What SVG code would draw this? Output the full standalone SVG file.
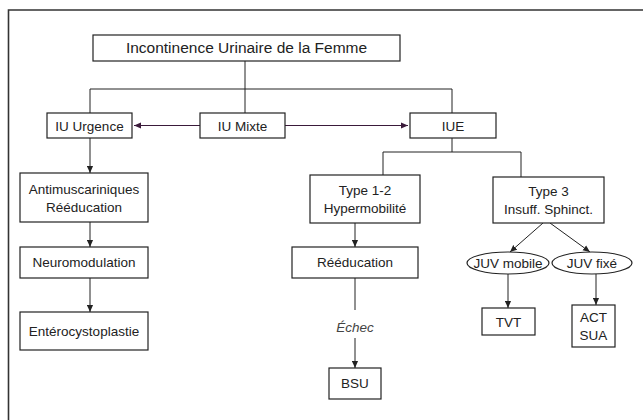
<svg xmlns="http://www.w3.org/2000/svg" width="643" height="420" viewBox="0 0 643 420">
<defs>
<style>
.box{fill:#fff;stroke:#222;stroke-width:1.2}
.t{font-family:"Liberation Sans",Arial,sans-serif;font-size:13.5px;fill:#222;text-anchor:middle}
.ln{fill:none;stroke:#222;stroke-width:1}
.pl{fill:none;stroke:#3a1a3a;stroke-width:1}
</style>
<marker id="ah" viewBox="0 0 8 8" refX="8" refY="4" markerWidth="7" markerHeight="7" markerUnits="userSpaceOnUse" orient="auto">
<path d="M0,0.5 L8,4 L0,7.5 Z" fill="#222"/>
</marker>
<marker id="ahp" viewBox="0 0 8 8" refX="8" refY="4" markerWidth="7" markerHeight="7" markerUnits="userSpaceOnUse" orient="auto">
<path d="M0,0.5 L8,4 L0,7.5 Z" fill="#3a1a3a"/>
</marker>
</defs>
<rect width="643" height="420" fill="#fff"/>
<path d="M8.5,420 V10 H643" fill="none" stroke="#333" stroke-width="1.6"/>

<g id="connectors">
<path class="ln" d="M245,61 V113"/>
<path class="ln" d="M90,113 V89 H452 V113"/>
<path class="pl" d="M200,125.5 H134" marker-end="url(#ahp)"/>
<path class="pl" d="M285,125.5 H408" marker-end="url(#ahp)"/>
<path class="ln" d="M452,138 V152"/>
<path class="ln" d="M383,175 V152 H521 V177"/>
<path class="ln" d="M90,138 V173" marker-end="url(#ah)"/>
<path class="ln" d="M90,222 V247" marker-end="url(#ah)"/>
<path class="ln" d="M90,278 V312" marker-end="url(#ah)"/>
<path class="ln" d="M355,223 V247" marker-end="url(#ah)"/>
<path class="ln" d="M355,278 V310"/>
<path class="ln" d="M355,338 V368" marker-end="url(#ah)"/>
<path class="ln" d="M543,223 L510,252" marker-end="url(#ah)"/>
<path class="ln" d="M550,223 L590,252" marker-end="url(#ah)"/>
<path class="ln" d="M508,274 V308" marker-end="url(#ah)"/>
<path class="ln" d="M596,274 V305" marker-end="url(#ah)"/>
</g>

<g id="title"><rect class="box" x="93" y="35" width="307" height="26"/><text class="t" x="246.5" y="53" style="font-size:15.5px">Incontinence Urinaire de la Femme</text></g>
<g id="iu-urgence"><rect class="box" x="47" y="113" width="85" height="25"/><text class="t" x="89.5" y="130.5">IU Urgence</text></g>
<g id="iu-mixte"><rect class="box" x="200" y="113" width="85" height="25"/><text class="t" x="242.5" y="130.5">IU Mixte</text></g>
<g id="iue"><rect class="box" x="410" y="113" width="86" height="25"/><text class="t" x="453" y="130.5">IUE</text></g>
<g id="antimuscariniques"><rect class="box" x="20" y="173" width="128" height="49"/><text class="t" x="84" y="194">Antimuscariniques</text><text class="t" x="84" y="212">Rééducation</text></g>
<g id="neuromodulation"><rect class="box" x="20" y="247" width="128" height="31"/><text class="t" x="84" y="267">Neuromodulation</text></g>
<g id="enterocystoplastie"><rect class="box" x="20" y="312" width="128" height="38"/><text class="t" x="84" y="335.5">Entérocystoplastie</text></g>
<g id="type12"><rect class="box" x="310" y="175" width="110" height="48"/><text class="t" x="365" y="195">Type 1-2</text><text class="t" x="365" y="213">Hypermobilité</text></g>
<g id="type3"><rect class="box" x="493" y="177" width="111" height="46"/><text class="t" x="548.5" y="196">Type 3</text><text class="t" x="548.5" y="214">Insuff. Sphinct.</text></g>
<g id="reeducation"><rect class="box" x="292" y="247" width="126" height="31"/><text class="t" x="355" y="267">Rééducation</text></g>
<g id="echec"><text class="t" x="355" y="332" style="font-style:italic;fill:#444">Échec</text></g>
<g id="bsu"><rect class="box" x="329" y="368" width="52" height="31"/><text class="t" x="355" y="388">BSU</text></g>
<g id="juv-mobile"><ellipse class="box" cx="508" cy="263" rx="41" ry="11"/><text class="t" x="508" y="268">JUV mobile</text></g>
<g id="juv-fixe"><ellipse class="box" cx="592" cy="263" rx="40" ry="11"/><text class="t" x="592" y="268">JUV fixé</text></g>
<g id="tvt"><rect class="box" x="482" y="308" width="53" height="27"/><text class="t" x="508.5" y="326.5">TVT</text></g>
<g id="act-sua"><rect class="box" x="572" y="305" width="43" height="42"/><text class="t" x="593.5" y="322">ACT</text><text class="t" x="593.5" y="340">SUA</text></g>
</svg>
